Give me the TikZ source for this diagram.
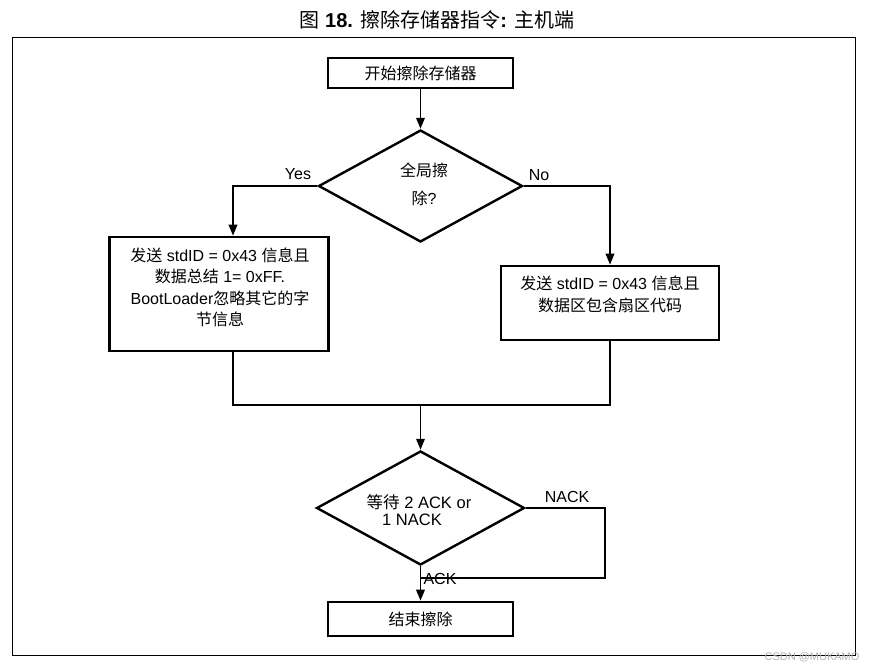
\documentclass[tikz,border=0pt]{standalone}
\usepackage{fontspec}
\setmainfont{Liberation Sans}
\newfontfamily\cjk{Noto Sans CJK SC}
\usetikzlibrary{shapes.geometric,arrows.meta,calc}
\tikzset{
  box/.style={draw, line width=2.6pt, inner sep=0pt},
  dia/.style={draw, diamond, line width=2.4pt, inner sep=0pt},
  txt/.style={font=\fontsize{16}{21.5}\selectfont, align=center, inner sep=0pt},
  lbl/.style={font=\fontsize{16}{19}\selectfont, inner sep=0pt},
  conn/.style={line width=1.9pt},
  arr/.style={conn, -{Triangle[length=11pt,width=8.5pt]}},
}
\begin{document}
\begin{tikzpicture}[x=1pt,y=-1pt]
\useasboundingbox (0,0) rectangle (878,671);
\draw[line width=1pt] (12,38) rectangle (855,655);
\node[font=\fontsize{20}{23}\selectfont, inner sep=0pt] (title) at (437,20)
  {{\cjk 图} \textbf{18.} {\cjk 擦除存储器指令}\textbf{:} {\cjk 主机端}};

\node[box, minimum width=185pt, minimum height=30pt, txt] (s) at (420.5,73) {\cjk 开始擦除存储器};
\node[dia, minimum width=204pt, minimum height=112pt] (d1) at (420.5,186) {};
\node[txt, font=\fontsize{16}{28}\selectfont] (d1t) at (424,184) {{\cjk 全局擦}\\{\cjk 除}?};
\node[lbl] (yes) at (298,174) {Yes};
\node[lbl] (no) at (539,175) {No};

\node[box, minimum width=219pt, minimum height=114pt] (lb) at (219,294) {};
\node[txt] (lbt) at (220,287.5) {{\cjk 发送} stdID = 0x43 {\cjk 信息且}\\{\cjk 数据总结} 1= 0xFF.\\BootLoader{\cjk 忽略其它的字}\\{\cjk 节信息}};
\node[box, minimum width=218pt, minimum height=74pt] (rb) at (610,303) {};
\node[txt] (rbt) at (610,294.5) {{\cjk 发送} stdID = 0x43 {\cjk 信息且}\\{\cjk 数据区包含扇区代码}};

\node[dia, minimum width=208pt, minimum height=114pt] (d2) at (420.5,508) {};
\node[lbl, font=\fontsize{16.5}{19}\selectfont] (d2a) at (419,502) {{\cjk 等待} 2 ACK or};
\node[lbl, font=\fontsize{16.5}{19}\selectfont] (d2b) at (412,520) {1 NACK};
\node[lbl] (nack) at (567,497) {NACK};

\node[box, minimum width=185pt, minimum height=34pt, txt] (e) at (420.5,619) {\cjk 结束擦除};
\node[lbl] (ack) at (440,579) {ACK};

\coordinate (xl) at (233,0);
\coordinate (m) at (420.5,405);
\coordinate (nk) at (605,578);

\draw[arr] (s.south) -- (d1.north);
\draw[arr] (d1.west) -| (xl |- lb.north);
\draw[arr] (d1.east) -| (rb.north);
\draw[conn] (xl |- lb.south) |- (m) -| (rb.south);
\draw[arr] (m) -- (d2.north);
\draw[arr] (d2.south) -- (e.north);
\draw[conn] (d2.east) -| (nk) -- (nk -| d2.south);

\node[font=\fontsize{11}{13}\selectfont, text=gray!60, inner sep=0pt] (wm) at (812,657) {CSDN @MUKAMO};
\end{tikzpicture}
\end{document}
